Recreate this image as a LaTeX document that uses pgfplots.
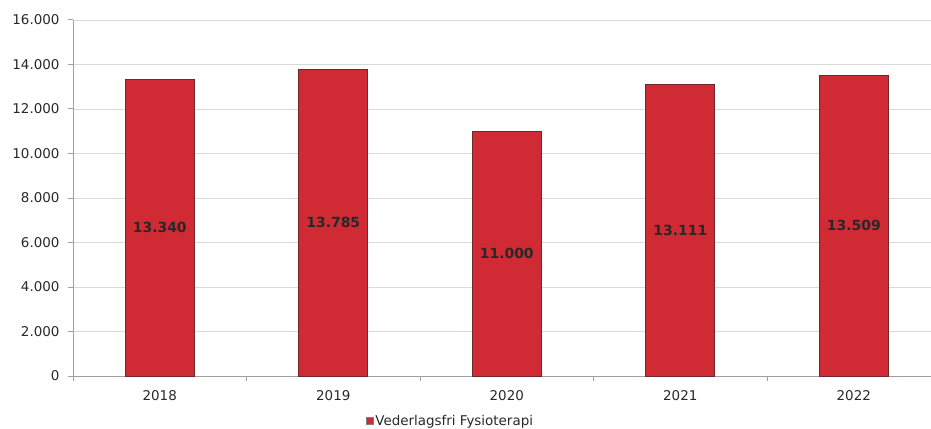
\documentclass[border=0pt]{standalone}
\usepackage{fontspec}
\setmainfont{DejaVu Sans}
\usepackage{pgfplots}
\pgfplotsset{compat=1.18}
\usepackage{pgfplotstable}
\definecolor{barred}{RGB}{208,42,52}
\definecolor{baredge}{RGB}{110,40,44}
\definecolor{axgray}{RGB}{160,160,160}
\definecolor{gridgray}{RGB}{217,217,217}
\definecolor{txt}{RGB}{40,40,40}
\pgfplotstableread{
x v
0 13340
1 13785
2 11000
3 13111
4 13509
}\data
\begin{document}
\begin{tikzpicture}
\useasboundingbox (0,0) rectangle (931bp,429bp);
\begin{axis}[
  at={(73bp,53bp)}, anchor=south west,
  scale only axis, width=858bp, height=356bp,
  xmin=-0.5, xmax=4.445,
  ymin=0, ymax=16000,
  ytick={0,2000,...,16000},
  xtick={-0.5,0.5,1.5,2.5,3.5},
  xticklabels={},
  extra x ticks={0,1,2,3,4},
  extra x tick labels={2018,2019,2020,2021,2022},
  extra x tick style={major tick length=0pt, grid=none},
  xtick style={axgray, line width=1pt},
  ymajorgrids, grid style={gridgray, line width=0.8pt},
  axis x line*=bottom, axis y line*=left,
  axis line style={axgray, line width=1pt},
  y axis line style={-}, x axis line style={-},
  ytick style={axgray, line width=1pt},
  tick align=outside, major tick length=5bp,
  scaled y ticks=false,
  /pgf/number format/.cd, 1000 sep={.}, assume math mode=true,
  /pgfplots/.cd,
  tick label style={font=\fontsize{13.5}{16}\selectfont, text=txt},
  xticklabel style={yshift=-11bp},
  yticklabel style={xshift=-5bp},
  legend style={at={(0.44,-0.126)}, anchor=center, draw=none, fill=none,
    font=\fontsize{13.5}{16}\selectfont, text=txt, inner sep=0pt},
  legend image code/.code={\draw[fill=barred, draw=gray, line width=0.4pt] (0bp,-3.5bp) rectangle (7bp,3.5bp);},
  legend cell align=left,
  clip=false,
]
\addplot[ybar, bar width=69bp, fill=barred, draw=baredge, line width=1pt, bar shift=0pt] table[x=x, y=v] {\data};
\addlegendentry{Vederlagsfri Fysioterapi}
\addplot[draw=none, mark=none, forget plot, nodes near coords, point meta=explicit,
  nodes near coords style={anchor=center, font=\bfseries\fontsize{14}{16}\selectfont, text=txt,
    /pgf/number format/.cd, 1000 sep={.}, fixed, precision=0, use comma}]
  table[x=x, y expr=\thisrow{v}/2, meta=v] {\data};
\end{axis}
\end{tikzpicture}
\end{document}
